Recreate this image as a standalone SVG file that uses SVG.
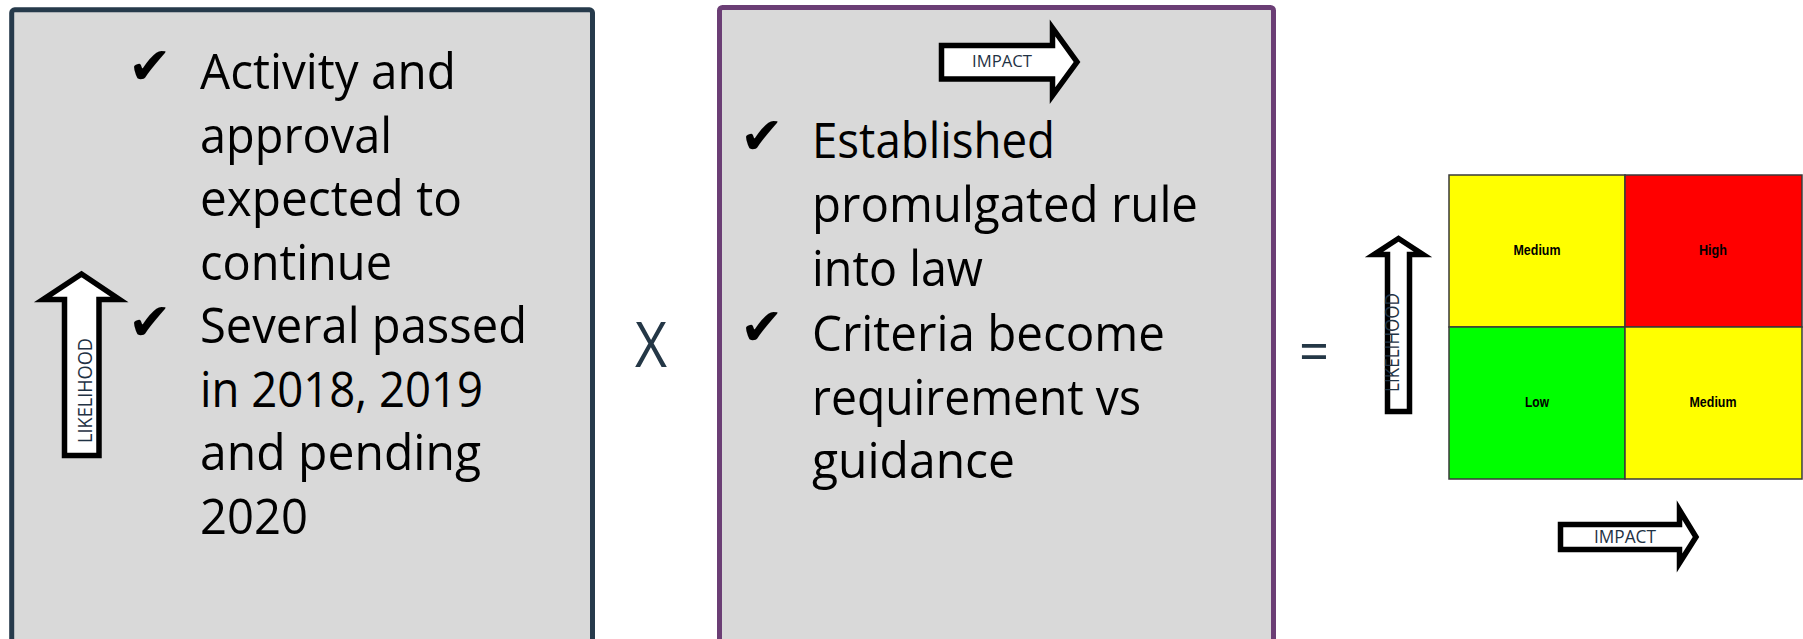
<svg xmlns="http://www.w3.org/2000/svg" width="1803" height="639" viewBox="0 0 1803 639">
<style>
.panel{fill:#d9d9d9;stroke-width:5}
.body{font-family:"Open Sans","Liberation Sans",sans-serif;font-size:50px;fill:#000}
.chk{font-family:"DejaVu Sans",sans-serif;font-size:52px;fill:#000}
.arrow{fill:#fff;stroke:#000;stroke-width:5.5;stroke-linejoin:miter;stroke-miterlimit:10}
.lbl{font-family:"Open Sans","Liberation Sans",sans-serif;fill:#1f3244}
.op{font-family:"Open Sans","Liberation Sans",sans-serif;fill:#243746}
.cell{stroke:#3a3a3a;stroke-width:1.5}
.cl{font-family:"Liberation Sans",Arial,sans-serif;font-weight:bold;font-size:15px;fill:#000;text-anchor:middle}
</style>
<rect width="1803" height="639" fill="#fff"/>

<g id="likelihood-box">
<rect class="panel" x="11.7" y="9.8" width="580.8" height="660" rx="3" stroke="#263a4b"/>
<text class="chk" x="128" y="84">✔</text>
<text class="chk" x="128" y="340">✔</text>
<text class="body" x="200" y="89" textLength="256" lengthAdjust="spacingAndGlyphs">Activity and</text>
<text class="body" x="200" y="152.5" textLength="192" lengthAdjust="spacingAndGlyphs">approval</text>
<text class="body" x="200" y="216" textLength="262" lengthAdjust="spacingAndGlyphs">expected to</text>
<text class="body" x="200" y="279.5" textLength="192" lengthAdjust="spacingAndGlyphs">continue</text>
<text class="body" x="200" y="343" textLength="327" lengthAdjust="spacingAndGlyphs">Several passed</text>
<text class="body" x="200" y="406.5" textLength="283" lengthAdjust="spacingAndGlyphs">in 2018, 2019</text>
<text class="body" x="200" y="470" textLength="281" lengthAdjust="spacingAndGlyphs">and pending</text>
<text class="body" x="200" y="533.5" textLength="108" lengthAdjust="spacingAndGlyphs">2020</text>
<g id="likelihood-arrow-left">
<path class="arrow" d="M81.5,274 L119.5,299.5 L99,299.5 L99,455.5 L64.5,455.5 L64.5,299.5 L43,299.5 Z"/>
<text class="lbl" font-size="20" text-anchor="middle" transform="translate(92,390.5) rotate(-90)" textLength="105" lengthAdjust="spacingAndGlyphs">LIKELIHOOD</text>
</g>
</g>

<g id="operator-x">
<text class="op" x="651" y="367" font-size="62" text-anchor="middle" textLength="32" lengthAdjust="spacingAndGlyphs">X</text>
</g>

<g id="impact-box">
<rect class="panel" x="719.5" y="7.5" width="554" height="660" rx="3" stroke="#6b3e75"/>
<g id="impact-arrow-top">
<path class="arrow" d="M941.5,45.5 L1052.5,45.5 L1052.5,28 L1077,62 L1052.5,95.5 L1052.5,79 L941.5,79 Z"/>
<text class="lbl" x="1002" y="67" font-size="17" text-anchor="middle" textLength="60" lengthAdjust="spacingAndGlyphs">IMPACT</text>
</g>
<text class="chk" x="740" y="154">✔</text>
<text class="chk" x="740" y="345">✔</text>
<text class="body" x="812" y="158" textLength="243" lengthAdjust="spacingAndGlyphs">Established</text>
<text class="body" x="812" y="222" textLength="386" lengthAdjust="spacingAndGlyphs">promulgated rule</text>
<text class="body" x="812" y="286" textLength="171" lengthAdjust="spacingAndGlyphs">into law</text>
<text class="body" x="812" y="351" textLength="353" lengthAdjust="spacingAndGlyphs">Criteria become</text>
<text class="body" x="812" y="415" textLength="329" lengthAdjust="spacingAndGlyphs">requirement vs</text>
<text class="body" x="812" y="478" textLength="203" lengthAdjust="spacingAndGlyphs">guidance</text>
</g>

<g id="operator-eq">
<text class="op" x="1314" y="371" font-size="56" text-anchor="middle" textLength="30" lengthAdjust="spacingAndGlyphs">=</text>
</g>

<g id="risk-matrix">
<rect class="cell" x="1449" y="175" width="176" height="152" fill="#ffff00"/>
<rect class="cell" x="1625" y="175" width="177" height="152" fill="#ff0000"/>
<rect class="cell" x="1449" y="327" width="176" height="152" fill="#00ff00"/>
<rect class="cell" x="1625" y="327" width="177" height="152" fill="#ffff00"/>
<text class="cl" x="1537" y="255" textLength="47" lengthAdjust="spacingAndGlyphs">Medium</text>
<text class="cl" x="1713" y="255" textLength="28" lengthAdjust="spacingAndGlyphs">High</text>
<text class="cl" x="1537" y="407" textLength="24" lengthAdjust="spacingAndGlyphs">Low</text>
<text class="cl" x="1713" y="407" textLength="47" lengthAdjust="spacingAndGlyphs">Medium</text>
</g>

<g id="likelihood-arrow-matrix">
<path class="arrow" stroke-width="5" d="M1398.5,238.5 L1423,254.5 L1409.5,254.5 L1409.5,411.5 L1387.5,411.5 L1387.5,254.5 L1374,254.5 Z"/>
<text class="lbl" font-size="20" text-anchor="middle" transform="translate(1399,342.5) rotate(-90)" textLength="99" lengthAdjust="spacingAndGlyphs">LIKELIHOOD</text>
</g>

<g id="impact-arrow-matrix">
<path class="arrow" stroke-width="5" d="M1560.5,524.5 L1679.5,524.5 L1679.5,510 L1696,537 L1679.5,563 L1679.5,549.5 L1560.5,549.5 Z"/>
<text class="lbl" x="1625" y="543" font-size="18" text-anchor="middle" textLength="62" lengthAdjust="spacingAndGlyphs">IMPACT</text>
</g>
</svg>
